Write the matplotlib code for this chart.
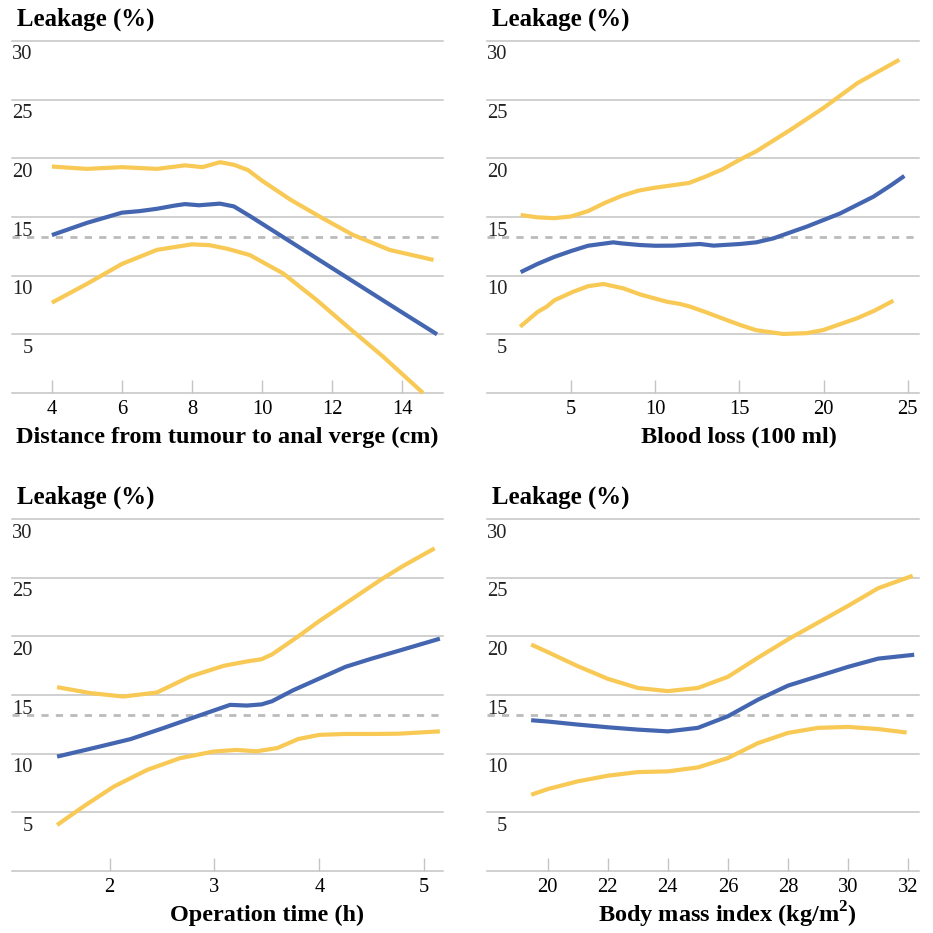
import matplotlib.pyplot as plt
import matplotlib.transforms as mtransforms
import numpy as np

plt.rcParams['font.family'] = ['Liberation Serif', 'DejaVu Serif']

YELLOW = '#F8C955'
BLUE = '#4466B0'
GRID = '#c4c4c4'

y_ticks = [30, 25, 20, 15, 10, 5]
ref_level = 13.3  # overall leakage rate (dashed line)

# panel 1: distance from tumour to anal verge (cm)
dist_x = [4, 5, 6, 7, 7.8, 8.3, 8.8, 9.2, 9.6, 10, 10.8, 11.65, 12.6, 13.65, 14.9]
dist_up = [19.3, 19.1, 19.25, 19.1, 19.4, 19.25, 19.67, 19.45, 19.0, 18.1, 16.5, 15.03, 13.47, 12.19, 11.34]
dist_mid_x = [4, 5, 6, 6.5, 7, 7.5, 7.8, 8.2, 8.8, 9.2, 9.65, 10, 11, 12, 13, 14, 15]
dist_mid = [13.46, 14.5, 15.37, 15.5, 15.7, 15.97, 16.1, 16.0, 16.14, 15.9, 15.09, 14.43, 12.54, 10.65,
            8.76, 6.87, 5.0]
dist_lo_x = [4, 5, 6, 7, 8, 8.5, 9, 9.65, 10.6, 11.56, 12.5, 13.46, 13.93, 14.6]
dist_lo = [7.7, 9.3, 11.0, 12.2, 12.67, 12.6, 12.3, 11.76, 10.2, 7.93, 5.51, 3.1, 1.82, 0.0]

# panel 2: blood loss (100 ml)
blood_up_x = [2, 3, 4, 5, 6, 7, 8, 9, 10, 11, 12, 13, 14, 15, 16, 18, 20, 22, 24.5]
blood_up = [15.17, 14.97, 14.9, 15.05, 15.5, 16.2, 16.8, 17.25, 17.5, 17.7, 17.9, 18.45, 19.07,
            19.87, 20.6, 22.4, 24.3, 26.4, 28.4]
blood_mid_x = [2, 3, 4, 5, 6, 7.5, 8, 9.1, 10, 11.08, 12.66, 13.46, 15.04, 16, 17.02, 19, 20.98,
               22.96, 24, 24.8]
blood_mid = [10.3, 11.0, 11.6, 12.1, 12.55, 12.84, 12.75, 12.61, 12.55, 12.56, 12.7, 12.56, 12.7,
             12.84, 13.18, 14.18, 15.3, 16.73, 17.7, 18.5]
blood_lo_x = [1.97, 3, 3.55, 4, 5.14, 6, 6.92, 8.1, 9.1, 10.68, 11.47, 12.07, 13, 14, 15.04, 16,
              17.6, 19, 19.99, 21.97, 23, 24.15]
blood_lo = [5.65, 6.9, 7.36, 7.9, 8.64, 9.1, 9.29, 8.92, 8.4, 7.78, 7.59, 7.36, 6.89, 6.35, 5.8, 5.35,
            5.03, 5.1, 5.37, 6.36, 7.0, 7.87]

# panel 3: operation time (h)
op_up_x = [1.5, 1.82, 2.13, 2.45, 2.77, 3.09, 3.31, 3.45, 3.55, 3.8, 4, 4.2, 4.4, 4.6, 4.8, 5.1]
op_up = [15.67, 15.16, 14.87, 15.21, 16.58, 17.49, 17.86, 18.05, 18.46, 20.0, 21.3, 22.5, 23.7, 24.9,
         26.0, 27.5]
op_mid_x = [1.5, 1.88, 2.2, 2.51, 2.83, 3.15, 3.31, 3.45, 3.55, 3.75, 4, 4.25, 4.5, 4.75, 5.15]
op_mid = [9.75, 10.55, 11.24, 12.17, 13.17, 14.16, 14.1, 14.2, 14.47, 15.4, 16.4, 17.4, 18.1, 18.75, 19.8]
op_lo_x = [1.5, 1.75, 2.04, 2.36, 2.67, 2.99, 3.21, 3.4, 3.6, 3.8, 4, 4.25, 4.5, 4.75, 5.15]
op_lo = [3.92, 5.49, 7.19, 8.62, 9.61, 10.18, 10.32, 10.2, 10.48, 11.25, 11.6, 11.68, 11.68, 11.7, 11.9]

# panel 4: body mass index (kg/m2)
bmi_up_x = [19.45, 20, 21, 22, 23, 24, 25, 26, 27, 28, 29, 30, 31, 32.15]
bmi_up = [19.3, 18.66, 17.46, 16.38, 15.6, 15.33, 15.6, 16.55, 18.18, 19.74, 21.17, 22.6, 24.1, 25.16]
bmi_mid_x = [19.45, 20, 21, 22, 23, 24, 25, 26, 27, 28, 29, 30, 31, 32.2]
bmi_mid = [12.85, 12.74, 12.48, 12.25, 12.05, 11.9, 12.2, 13.19, 14.6, 15.8, 16.6, 17.4, 18.1, 18.43]
bmi_lo_x = [19.45, 20, 21, 22, 23, 24, 25, 26, 27, 28, 29, 30, 31, 31.95]
bmi_lo = [6.5, 6.98, 7.64, 8.12, 8.43, 8.49, 8.83, 9.63, 10.9, 11.77, 12.2, 12.28, 12.1, 11.8]

panels = [
    dict(rect=[12, 41, 443, 393], xlim=(2.86, 15.17), xticks=[4, 6, 8, 10, 12, 14],
         xlabel='Distance from tumour to anal verge (cm)',
         up=(dist_x, dist_up), mid=(dist_mid_x, dist_mid), lo=(dist_lo_x, dist_lo)),
    dict(rect=[487, 41, 919, 393], xlim=(0.0, 25.67), xticks=[5, 10, 15, 20, 25],
         xlabel='Blood loss (100 ml)',
         up=(blood_up_x, blood_up), mid=(blood_mid_x, blood_mid), lo=(blood_lo_x, blood_lo)),
    dict(rect=[12, 519, 443, 871], xlim=(1.07, 5.18), xticks=[2, 3, 4, 5],
         xlabel='Operation time (h)',
         up=(op_up_x, op_up), mid=(op_mid_x, op_mid), lo=(op_lo_x, op_lo)),
    dict(rect=[487, 519, 919, 871], xlim=(17.98, 32.36), xticks=[20, 22, 24, 26, 28, 30, 32],
         xlabel='Body mass index (kg/m$^\\mathregular{2}$)',
         up=(bmi_up_x, bmi_up), mid=(bmi_mid_x, bmi_mid), lo=(bmi_lo_x, bmi_lo)),
]

W = H = 933
fig = plt.figure(figsize=(9.33, 9.33), dpi=100)

for p in panels:
    l, t, r, b = p['rect']
    ax = fig.add_axes([l / W, 1 - b / H, (r - l) / W, (b - t) / H])
    ax.set_xlim(*p['xlim'])
    ax.set_ylim(0, 30)
    for s in ax.spines.values():
        s.set_visible(False)
    for v in [0] + y_ticks:
        ax.axhline(v, color=GRID, lw=1.1, clip_on=False, zorder=1)
    ax.axhline(ref_level, color='#bbbbbb', lw=2, ls=(0, (2.6, 2.6)), zorder=1)

    for key, col, z in [('up', YELLOW, 3), ('lo', YELLOW, 3), ('mid', BLUE, 4)]:
        ax.plot(*p[key], color=col, lw=3, solid_capstyle='butt', solid_joinstyle='round',
                zorder=z, clip_on=False)

    ax.set_yticks([])
    ax.set_xticks(p['xticks'])
    ax.set_xticklabels([str(v) for v in p['xticks']], fontsize=14.8)
    ax.tick_params(axis='x', direction='in', length=9.5, width=1, color=GRID, pad=5)

    # y labels sit just below their gridline, right-aligned at the left
    trans = mtransforms.blended_transform_factory(ax.transAxes, ax.transData)
    off = mtransforms.ScaledTranslation(0, -14 / 100, fig.dpi_scale_trans)
    for v in y_ticks:
        ax.text(20.5 / (r - l), v, str(v), transform=trans + off, ha='right', va='center',
                fontsize=14.8, color='#222222')

    ax.text(5 / (r - l), 1 + 22 / (b - t), 'Leakage (%)', transform=ax.transAxes,
            ha='left', va='center', fontsize=17.9, fontweight='bold')

    x0, x1 = p['xlim']
    mid = (p['xticks'][0] + p['xticks'][-1]) / 2
    ax.text((mid - x0) / (x1 - x0), -44 / (b - t), p['xlabel'], transform=ax.transAxes,
            ha='center', va='center', fontsize=17.5, fontweight='bold')

fig.savefig('out.png', dpi=100)
